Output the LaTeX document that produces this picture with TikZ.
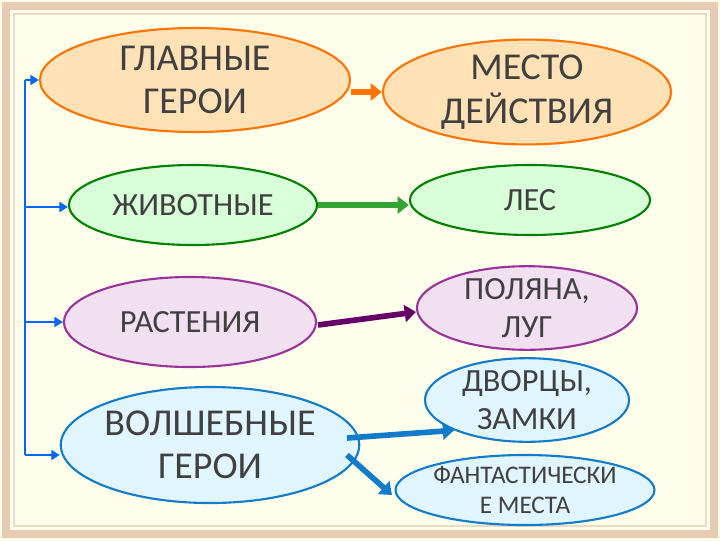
\documentclass[tikz,border=0pt]{standalone}
\usepackage{fontspec}
\setmainfont{Carlito}
\usetikzlibrary{shapes.geometric,arrows.meta}
\begin{document}
\begin{tikzpicture}[x=0.025cm,y=-0.025cm,
  el/.style={ellipse,draw,line width=1.5pt,align=center,inner sep=0pt,text=black!75},
  org/.style={el,draw=orange!90!red,fill=orange!25!white!95!yellow},
  grn/.style={el,draw=green!50!black,fill=green!15!white},
  pur/.style={el,draw=violet!80,fill=violet!12!white},
  blu/.style={el,draw=cyan!60!blue,fill=cyan!12!white},
  arr/.style={line width=4pt,-{Triangle[length=8pt,width=12pt]}},
  bl/.style={draw=blue!60!cyan,line width=1.5pt},
  big/.style={font=\fontsize{27}{31}\selectfont},
  mid/.style={font=\fontsize{23}{27}\selectfont},
  sml/.style={font=\fontsize{18}{21}\selectfont}]
\fill[orange!10!yellow!8!white] (0,0) rectangle (720,540);
\draw[brown!40,line width=6pt] (6,6) rectangle (714,534);
\draw[brown!30,line width=1pt] (14,14) rectangle (706,526);
\node[org,big,minimum width=7.75cm,minimum height=2.6cm] (gg) at (195,80) {ГЛАВНЫЕ\\ГЕРОИ};
\node[org,big,minimum width=7.2cm,minimum height=2.35cm] (md) at (527,92) {МЕСТО\\ДЕЙСТВИЯ};
\node[grn,mid,minimum width=6.2cm,minimum height=2cm] (zh) at (193,205) {ЖИВОТНЫЕ};
\node[grn,mid,minimum width=6cm,minimum height=1.75cm] (les) at (530,200) {ЛЕС};
\node[pur,mid,minimum width=6.3cm,minimum height=2.25cm] (ra) at (190,322) {РАСТЕНИЯ};
\node[pur,mid,minimum width=5.5cm,minimum height=2cm] (pl) at (527,308) {ПОЛЯНА,\\ЛУГ};
\node[blu,big,minimum width=6.8cm,minimum height=2.9cm] (vg) at (210,445) {ВОЛШЕБНЫЕ\\ГЕРОИ};
\node[blu,mid,minimum width=5.1cm,minimum height=1.9cm] (dz) at (527,400) {ДВОРЦЫ,\\ЗАМКИ};
\node[blu,sml,minimum width=6cm,minimum height=1.75cm] (fm) at (525,490) {ФАНТАСТИЧЕСКИ\\Е МЕСТА};
\draw[arr,orange!90!red] (gg.east|-0,92) -- (md.west|-0,92);
\draw[arr,green!55!black!80] (318,205) -- (les.west|-0,205);
\draw[arr,violet!80!black] (318,325) -- (pl.west|-0,312);
\draw[arr,cyan!60!blue] (347,438) -- (dz.south west);
\draw[arr,cyan!60!blue] (347,455) -- (392,495);
\coordinate (t) at (25,80);
\coordinate (b) at (25,455);
\draw[bl] (t) -- (b);
\draw[bl,-{Triangle[length=6pt,width=7pt]}] (t) -- (gg.west);
\draw[bl,-{Triangle[length=6pt,width=7pt]}] (25,207) -- (zh.west|-0,207);
\draw[bl,-{Triangle[length=6pt,width=7pt]}] (25,322) -- (ra.west);
\draw[bl,-{Triangle[length=6pt,width=7pt]}] (b) -- (vg.west|-0,455);
\end{tikzpicture}
\end{document}
